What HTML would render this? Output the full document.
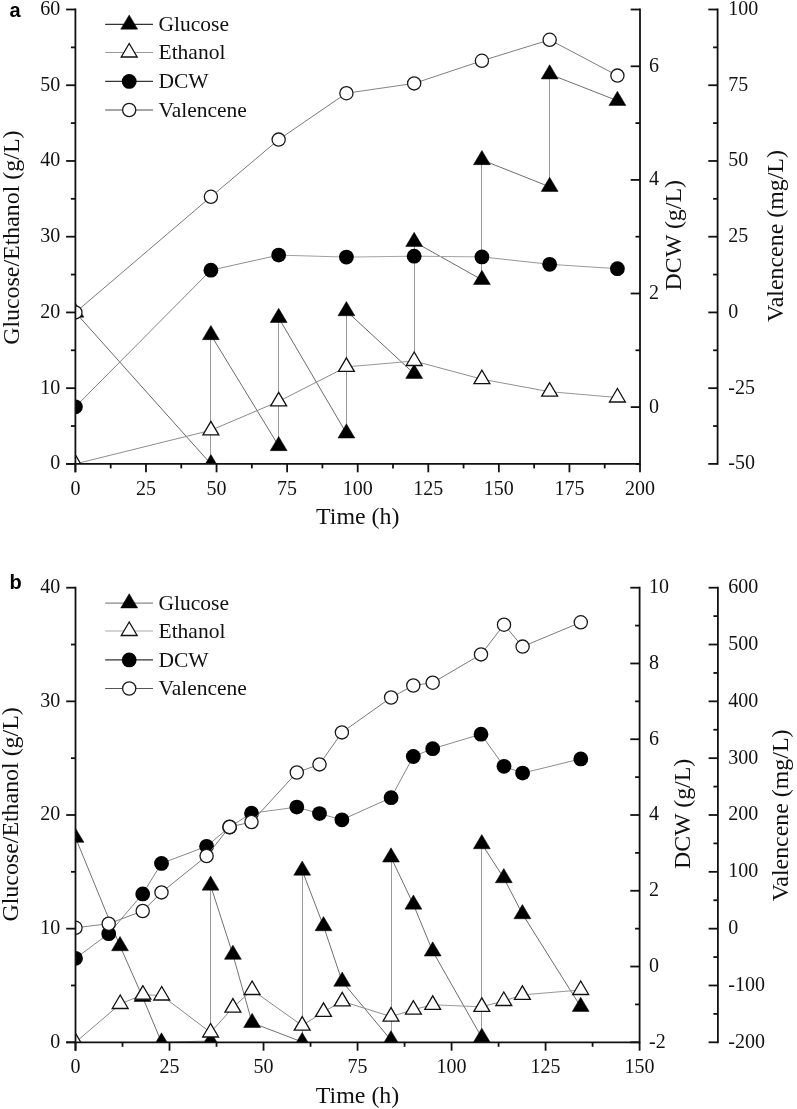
<!DOCTYPE html>
<html><head><meta charset="utf-8"><title>Fermentation profiles</title>
<style>
html,body{margin:0;padding:0;background:#fff;}
body{width:797px;height:1109px;overflow:hidden;font-family:"Liberation Serif",serif;}
svg{display:block;will-change:transform;}
</style></head>
<body>
<svg width="797" height="1109" viewBox="0 0 797 1109">
<rect x="0" y="0" width="797" height="1109" fill="#fff"/>
<clipPath id="ca"><rect x="75.4" y="-10.5" width="594.6" height="474.4"/></clipPath>
<g clip-path="url(#ca)">
<line x1="75.40" y1="312.40" x2="210.90" y2="464.00" stroke="#6a6a6a" stroke-width="1.0" stroke-linecap="round"/>
<line x1="210.50" y1="464.00" x2="210.50" y2="334.90" stroke="#9a9a9a" stroke-width="1.0" stroke-linecap="round"/>
<line x1="210.90" y1="334.90" x2="278.66" y2="445.90" stroke="#6c6c6c" stroke-width="1.0" stroke-linecap="round"/>
<line x1="278.50" y1="445.90" x2="278.50" y2="317.80" stroke="#9a9a9a" stroke-width="1.0" stroke-linecap="round"/>
<line x1="278.66" y1="317.80" x2="346.41" y2="433.30" stroke="#6c6c6c" stroke-width="1.0" stroke-linecap="round"/>
<line x1="346.50" y1="433.30" x2="346.50" y2="311.00" stroke="#9a9a9a" stroke-width="1.0" stroke-linecap="round"/>
<line x1="346.41" y1="311.00" x2="414.16" y2="373.70" stroke="#6a6a6a" stroke-width="1.0" stroke-linecap="round"/>
<line x1="414.50" y1="373.70" x2="414.50" y2="241.80" stroke="#9a9a9a" stroke-width="1.0" stroke-linecap="round"/>
<line x1="414.16" y1="241.80" x2="481.91" y2="279.80" stroke="#6d6d6d" stroke-width="1.0" stroke-linecap="round"/>
<line x1="481.50" y1="279.80" x2="481.50" y2="159.90" stroke="#9a9a9a" stroke-width="1.0" stroke-linecap="round"/>
<line x1="481.91" y1="159.90" x2="549.66" y2="186.80" stroke="#707070" stroke-width="1.0" stroke-linecap="round"/>
<line x1="549.50" y1="186.80" x2="549.50" y2="74.20" stroke="#9a9a9a" stroke-width="1.0" stroke-linecap="round"/>
<line x1="549.66" y1="74.20" x2="617.42" y2="100.70" stroke="#707070" stroke-width="1.0" stroke-linecap="round"/>
<polygon points="75.40,302.93 66.95,317.13 83.85,317.13" fill="#000" stroke="#000" stroke-width="0.5" stroke-linejoin="miter"/>
<polygon points="210.90,454.53 202.45,468.73 219.35,468.73" fill="#000" stroke="#000" stroke-width="0.5" stroke-linejoin="miter"/>
<polygon points="210.90,325.43 202.45,339.63 219.35,339.63" fill="#000" stroke="#000" stroke-width="0.5" stroke-linejoin="miter"/>
<polygon points="278.66,436.43 270.21,450.63 287.11,450.63" fill="#000" stroke="#000" stroke-width="0.5" stroke-linejoin="miter"/>
<polygon points="278.66,308.33 270.21,322.53 287.11,322.53" fill="#000" stroke="#000" stroke-width="0.5" stroke-linejoin="miter"/>
<polygon points="346.41,423.83 337.96,438.03 354.86,438.03" fill="#000" stroke="#000" stroke-width="0.5" stroke-linejoin="miter"/>
<polygon points="346.41,301.53 337.96,315.73 354.86,315.73" fill="#000" stroke="#000" stroke-width="0.5" stroke-linejoin="miter"/>
<polygon points="414.16,364.23 405.71,378.43 422.61,378.43" fill="#000" stroke="#000" stroke-width="0.5" stroke-linejoin="miter"/>
<polygon points="414.16,232.33 405.71,246.53 422.61,246.53" fill="#000" stroke="#000" stroke-width="0.5" stroke-linejoin="miter"/>
<polygon points="481.91,270.33 473.46,284.53 490.36,284.53" fill="#000" stroke="#000" stroke-width="0.5" stroke-linejoin="miter"/>
<polygon points="481.91,150.43 473.46,164.63 490.36,164.63" fill="#000" stroke="#000" stroke-width="0.5" stroke-linejoin="miter"/>
<polygon points="549.66,177.33 541.21,191.53 558.11,191.53" fill="#000" stroke="#000" stroke-width="0.5" stroke-linejoin="miter"/>
<polygon points="549.66,64.73 541.21,78.93 558.11,78.93" fill="#000" stroke="#000" stroke-width="0.5" stroke-linejoin="miter"/>
<polygon points="617.42,91.23 608.97,105.43 625.87,105.43" fill="#000" stroke="#000" stroke-width="0.5" stroke-linejoin="miter"/>
<line x1="75.40" y1="463.90" x2="210.90" y2="430.30" stroke="#8f8f8f" stroke-width="1.0" stroke-linecap="round"/>
<line x1="210.90" y1="430.30" x2="278.66" y2="401.40" stroke="#8b8b8b" stroke-width="1.0" stroke-linecap="round"/>
<line x1="278.66" y1="401.40" x2="346.41" y2="366.90" stroke="#8a8a8a" stroke-width="1.0" stroke-linecap="round"/>
<line x1="346.41" y1="366.90" x2="414.16" y2="361.00" stroke="#979797" stroke-width="1.0" stroke-linecap="round"/>
<line x1="414.16" y1="361.00" x2="481.91" y2="379.20" stroke="#8f8f8f" stroke-width="1.0" stroke-linecap="round"/>
<line x1="481.91" y1="379.20" x2="549.66" y2="391.70" stroke="#929292" stroke-width="1.0" stroke-linecap="round"/>
<line x1="549.66" y1="391.70" x2="617.42" y2="397.50" stroke="#979797" stroke-width="1.0" stroke-linecap="round"/>
<polygon points="75.40,454.90 67.45,468.40 83.35,468.40" fill="#fff" stroke="#111" stroke-width="1.3" stroke-linejoin="miter"/>
<polygon points="210.90,421.30 202.95,434.80 218.85,434.80" fill="#fff" stroke="#111" stroke-width="1.3" stroke-linejoin="miter"/>
<polygon points="278.66,392.40 270.71,405.90 286.61,405.90" fill="#fff" stroke="#111" stroke-width="1.3" stroke-linejoin="miter"/>
<polygon points="346.41,357.90 338.46,371.40 354.36,371.40" fill="#fff" stroke="#111" stroke-width="1.3" stroke-linejoin="miter"/>
<polygon points="414.16,352.00 406.21,365.50 422.11,365.50" fill="#fff" stroke="#111" stroke-width="1.3" stroke-linejoin="miter"/>
<polygon points="481.91,370.20 473.96,383.70 489.86,383.70" fill="#fff" stroke="#111" stroke-width="1.3" stroke-linejoin="miter"/>
<polygon points="549.66,382.70 541.71,396.20 557.61,396.20" fill="#fff" stroke="#111" stroke-width="1.3" stroke-linejoin="miter"/>
<polygon points="617.42,388.50 609.47,402.00 625.37,402.00" fill="#fff" stroke="#111" stroke-width="1.3" stroke-linejoin="miter"/>
<line x1="75.40" y1="406.80" x2="210.90" y2="270.20" stroke="#848484" stroke-width="1.0" stroke-linecap="round"/>
<line x1="210.90" y1="270.20" x2="278.66" y2="255.10" stroke="#8f8f8f" stroke-width="1.0" stroke-linecap="round"/>
<line x1="278.66" y1="255.10" x2="346.41" y2="257.10" stroke="#a0a0a0" stroke-width="1.0" stroke-linecap="round"/>
<line x1="346.41" y1="257.10" x2="414.16" y2="256.20" stroke="#a4a4a4" stroke-width="1.0" stroke-linecap="round"/>
<line x1="414.16" y1="256.20" x2="481.91" y2="256.90" stroke="#a5a5a5" stroke-width="1.0" stroke-linecap="round"/>
<line x1="481.91" y1="256.90" x2="549.66" y2="264.30" stroke="#969696" stroke-width="1.0" stroke-linecap="round"/>
<line x1="549.66" y1="264.30" x2="617.42" y2="268.70" stroke="#9a9a9a" stroke-width="1.0" stroke-linecap="round"/>
<circle cx="75.40" cy="406.80" r="7.40" fill="#000"/>
<circle cx="210.90" cy="270.20" r="7.40" fill="#000"/>
<circle cx="278.66" cy="255.10" r="7.40" fill="#000"/>
<circle cx="346.41" cy="257.10" r="7.40" fill="#000"/>
<circle cx="414.16" cy="256.20" r="7.40" fill="#000"/>
<circle cx="481.91" cy="256.90" r="7.40" fill="#000"/>
<circle cx="549.66" cy="264.30" r="7.40" fill="#000"/>
<circle cx="617.42" cy="268.70" r="7.40" fill="#000"/>
<line x1="75.40" y1="312.40" x2="210.90" y2="196.80" stroke="#7a7a7a" stroke-width="1.0" stroke-linecap="round"/>
<line x1="210.90" y1="196.80" x2="278.66" y2="139.60" stroke="#7a7a7a" stroke-width="1.0" stroke-linecap="round"/>
<line x1="278.66" y1="139.60" x2="346.41" y2="93.20" stroke="#7b7b7b" stroke-width="1.0" stroke-linecap="round"/>
<line x1="346.41" y1="93.20" x2="414.16" y2="83.40" stroke="#858585" stroke-width="1.0" stroke-linecap="round"/>
<line x1="414.16" y1="83.40" x2="481.91" y2="60.80" stroke="#7f7f7f" stroke-width="1.0" stroke-linecap="round"/>
<line x1="481.91" y1="60.80" x2="549.66" y2="39.80" stroke="#7f7f7f" stroke-width="1.0" stroke-linecap="round"/>
<line x1="549.66" y1="39.80" x2="617.42" y2="75.60" stroke="#7c7c7c" stroke-width="1.0" stroke-linecap="round"/>
<circle cx="75.40" cy="312.40" r="6.60" fill="#fff" stroke="#1a1a1a" stroke-width="1.3"/>
<circle cx="210.90" cy="196.80" r="6.60" fill="#fff" stroke="#1a1a1a" stroke-width="1.3"/>
<circle cx="278.66" cy="139.60" r="6.60" fill="#fff" stroke="#1a1a1a" stroke-width="1.3"/>
<circle cx="346.41" cy="93.20" r="6.60" fill="#fff" stroke="#1a1a1a" stroke-width="1.3"/>
<circle cx="414.16" cy="83.40" r="6.60" fill="#fff" stroke="#1a1a1a" stroke-width="1.3"/>
<circle cx="481.91" cy="60.80" r="6.60" fill="#fff" stroke="#1a1a1a" stroke-width="1.3"/>
<circle cx="549.66" cy="39.80" r="6.60" fill="#fff" stroke="#1a1a1a" stroke-width="1.3"/>
<circle cx="617.42" cy="75.60" r="6.60" fill="#fff" stroke="#1a1a1a" stroke-width="1.3"/>
</g>
<line x1="75.40" y1="8.60" x2="75.40" y2="472.30" stroke="#111" stroke-width="1.8" />
<line x1="66.10" y1="463.90" x2="640.00" y2="463.90" stroke="#111" stroke-width="1.8" />
<line x1="66.10" y1="463.90" x2="75.40" y2="463.90" stroke="#111" stroke-width="1.8" />
<text x="60.20" y="469.30" font-family='"Liberation Serif", serif' font-size="20" font-weight="normal" text-anchor="end" fill="#111" >0</text>
<line x1="70.90" y1="426.03" x2="75.40" y2="426.03" stroke="#111" stroke-width="1.8" />
<line x1="66.10" y1="388.17" x2="75.40" y2="388.17" stroke="#111" stroke-width="1.8" />
<text x="60.20" y="393.57" font-family='"Liberation Serif", serif' font-size="20" font-weight="normal" text-anchor="end" fill="#111" >10</text>
<line x1="70.90" y1="350.30" x2="75.40" y2="350.30" stroke="#111" stroke-width="1.8" />
<line x1="66.10" y1="312.43" x2="75.40" y2="312.43" stroke="#111" stroke-width="1.8" />
<text x="60.20" y="317.83" font-family='"Liberation Serif", serif' font-size="20" font-weight="normal" text-anchor="end" fill="#111" >20</text>
<line x1="70.90" y1="274.57" x2="75.40" y2="274.57" stroke="#111" stroke-width="1.8" />
<line x1="66.10" y1="236.70" x2="75.40" y2="236.70" stroke="#111" stroke-width="1.8" />
<text x="60.20" y="242.10" font-family='"Liberation Serif", serif' font-size="20" font-weight="normal" text-anchor="end" fill="#111" >30</text>
<line x1="70.90" y1="198.83" x2="75.40" y2="198.83" stroke="#111" stroke-width="1.8" />
<line x1="66.10" y1="160.97" x2="75.40" y2="160.97" stroke="#111" stroke-width="1.8" />
<text x="60.20" y="166.37" font-family='"Liberation Serif", serif' font-size="20" font-weight="normal" text-anchor="end" fill="#111" >40</text>
<line x1="70.90" y1="123.10" x2="75.40" y2="123.10" stroke="#111" stroke-width="1.8" />
<line x1="66.10" y1="85.23" x2="75.40" y2="85.23" stroke="#111" stroke-width="1.8" />
<text x="60.20" y="90.63" font-family='"Liberation Serif", serif' font-size="20" font-weight="normal" text-anchor="end" fill="#111" >50</text>
<line x1="70.90" y1="47.37" x2="75.40" y2="47.37" stroke="#111" stroke-width="1.8" />
<line x1="66.10" y1="9.50" x2="75.40" y2="9.50" stroke="#111" stroke-width="1.8" />
<text x="60.20" y="14.90" font-family='"Liberation Serif", serif' font-size="20" font-weight="normal" text-anchor="end" fill="#111" >60</text>
<line x1="75.40" y1="463.90" x2="75.40" y2="472.30" stroke="#111" stroke-width="1.8" />
<text x="75.40" y="494.50" font-family='"Liberation Serif", serif' font-size="20" font-weight="normal" text-anchor="middle" fill="#111" >0</text>
<line x1="110.69" y1="463.90" x2="110.69" y2="468.40" stroke="#111" stroke-width="1.8" />
<line x1="145.98" y1="463.90" x2="145.98" y2="472.30" stroke="#111" stroke-width="1.8" />
<text x="145.98" y="494.50" font-family='"Liberation Serif", serif' font-size="20" font-weight="normal" text-anchor="middle" fill="#111" >25</text>
<line x1="181.26" y1="463.90" x2="181.26" y2="468.40" stroke="#111" stroke-width="1.8" />
<line x1="216.55" y1="463.90" x2="216.55" y2="472.30" stroke="#111" stroke-width="1.8" />
<text x="216.55" y="494.50" font-family='"Liberation Serif", serif' font-size="20" font-weight="normal" text-anchor="middle" fill="#111" >50</text>
<line x1="251.84" y1="463.90" x2="251.84" y2="468.40" stroke="#111" stroke-width="1.8" />
<line x1="287.12" y1="463.90" x2="287.12" y2="472.30" stroke="#111" stroke-width="1.8" />
<text x="287.12" y="494.50" font-family='"Liberation Serif", serif' font-size="20" font-weight="normal" text-anchor="middle" fill="#111" >75</text>
<line x1="322.41" y1="463.90" x2="322.41" y2="468.40" stroke="#111" stroke-width="1.8" />
<line x1="357.70" y1="463.90" x2="357.70" y2="472.30" stroke="#111" stroke-width="1.8" />
<text x="357.70" y="494.50" font-family='"Liberation Serif", serif' font-size="20" font-weight="normal" text-anchor="middle" fill="#111" >100</text>
<line x1="392.99" y1="463.90" x2="392.99" y2="468.40" stroke="#111" stroke-width="1.8" />
<line x1="428.27" y1="463.90" x2="428.27" y2="472.30" stroke="#111" stroke-width="1.8" />
<text x="428.27" y="494.50" font-family='"Liberation Serif", serif' font-size="20" font-weight="normal" text-anchor="middle" fill="#111" >125</text>
<line x1="463.56" y1="463.90" x2="463.56" y2="468.40" stroke="#111" stroke-width="1.8" />
<line x1="498.85" y1="463.90" x2="498.85" y2="472.30" stroke="#111" stroke-width="1.8" />
<text x="498.85" y="494.50" font-family='"Liberation Serif", serif' font-size="20" font-weight="normal" text-anchor="middle" fill="#111" >150</text>
<line x1="534.14" y1="463.90" x2="534.14" y2="468.40" stroke="#111" stroke-width="1.8" />
<line x1="569.42" y1="463.90" x2="569.42" y2="472.30" stroke="#111" stroke-width="1.8" />
<text x="569.42" y="494.50" font-family='"Liberation Serif", serif' font-size="20" font-weight="normal" text-anchor="middle" fill="#111" >175</text>
<line x1="604.71" y1="463.90" x2="604.71" y2="468.40" stroke="#111" stroke-width="1.8" />
<line x1="640.00" y1="463.90" x2="640.00" y2="472.30" stroke="#111" stroke-width="1.8" />
<text x="640.00" y="494.50" font-family='"Liberation Serif", serif' font-size="20" font-weight="normal" text-anchor="middle" fill="#111" >200</text>
<line x1="640.00" y1="8.60" x2="640.00" y2="464.80" stroke="#111" stroke-width="1.8" />
<line x1="635.50" y1="463.90" x2="640.00" y2="463.90" stroke="#111" stroke-width="1.8" />
<line x1="630.70" y1="407.10" x2="640.00" y2="407.10" stroke="#111" stroke-width="1.8" />
<text x="649.00" y="412.50" font-family='"Liberation Serif", serif' font-size="20" font-weight="normal" text-anchor="start" fill="#111" >0</text>
<line x1="635.50" y1="350.30" x2="640.00" y2="350.30" stroke="#111" stroke-width="1.8" />
<line x1="630.70" y1="293.50" x2="640.00" y2="293.50" stroke="#111" stroke-width="1.8" />
<text x="649.00" y="298.90" font-family='"Liberation Serif", serif' font-size="20" font-weight="normal" text-anchor="start" fill="#111" >2</text>
<line x1="635.50" y1="236.70" x2="640.00" y2="236.70" stroke="#111" stroke-width="1.8" />
<line x1="630.70" y1="179.90" x2="640.00" y2="179.90" stroke="#111" stroke-width="1.8" />
<text x="649.00" y="185.30" font-family='"Liberation Serif", serif' font-size="20" font-weight="normal" text-anchor="start" fill="#111" >4</text>
<line x1="635.50" y1="123.10" x2="640.00" y2="123.10" stroke="#111" stroke-width="1.8" />
<line x1="630.70" y1="66.30" x2="640.00" y2="66.30" stroke="#111" stroke-width="1.8" />
<text x="649.00" y="71.70" font-family='"Liberation Serif", serif' font-size="20" font-weight="normal" text-anchor="start" fill="#111" >6</text>
<line x1="630.70" y1="9.50" x2="640.00" y2="9.50" stroke="#111" stroke-width="1.8" />
<line x1="717.60" y1="8.60" x2="717.60" y2="464.80" stroke="#111" stroke-width="1.8" />
<line x1="708.30" y1="463.90" x2="717.60" y2="463.90" stroke="#111" stroke-width="1.8" />
<text x="728.30" y="469.30" font-family='"Liberation Serif", serif' font-size="20" font-weight="normal" text-anchor="start" fill="#111" >-50</text>
<line x1="713.10" y1="426.03" x2="717.60" y2="426.03" stroke="#111" stroke-width="1.8" />
<line x1="708.30" y1="388.17" x2="717.60" y2="388.17" stroke="#111" stroke-width="1.8" />
<text x="728.30" y="393.57" font-family='"Liberation Serif", serif' font-size="20" font-weight="normal" text-anchor="start" fill="#111" >-25</text>
<line x1="713.10" y1="350.30" x2="717.60" y2="350.30" stroke="#111" stroke-width="1.8" />
<line x1="708.30" y1="312.43" x2="717.60" y2="312.43" stroke="#111" stroke-width="1.8" />
<text x="728.30" y="317.83" font-family='"Liberation Serif", serif' font-size="20" font-weight="normal" text-anchor="start" fill="#111" >0</text>
<line x1="713.10" y1="274.57" x2="717.60" y2="274.57" stroke="#111" stroke-width="1.8" />
<line x1="708.30" y1="236.70" x2="717.60" y2="236.70" stroke="#111" stroke-width="1.8" />
<text x="728.30" y="242.10" font-family='"Liberation Serif", serif' font-size="20" font-weight="normal" text-anchor="start" fill="#111" >25</text>
<line x1="713.10" y1="198.83" x2="717.60" y2="198.83" stroke="#111" stroke-width="1.8" />
<line x1="708.30" y1="160.97" x2="717.60" y2="160.97" stroke="#111" stroke-width="1.8" />
<text x="728.30" y="166.37" font-family='"Liberation Serif", serif' font-size="20" font-weight="normal" text-anchor="start" fill="#111" >50</text>
<line x1="713.10" y1="123.10" x2="717.60" y2="123.10" stroke="#111" stroke-width="1.8" />
<line x1="708.30" y1="85.23" x2="717.60" y2="85.23" stroke="#111" stroke-width="1.8" />
<text x="728.30" y="90.63" font-family='"Liberation Serif", serif' font-size="20" font-weight="normal" text-anchor="start" fill="#111" >75</text>
<line x1="713.10" y1="47.37" x2="717.60" y2="47.37" stroke="#111" stroke-width="1.8" />
<line x1="708.30" y1="9.50" x2="717.60" y2="9.50" stroke="#111" stroke-width="1.8" />
<text x="728.30" y="14.90" font-family='"Liberation Serif", serif' font-size="20" font-weight="normal" text-anchor="start" fill="#111" >100</text>
<text x="10.80" y="237.70" font-family='"Liberation Serif", serif' font-size="23.9" font-weight="normal" text-anchor="middle" fill="#111" transform="rotate(-90 10.80 237.70)" dy="0.35em">Glucose/Ethanol (g/L)</text>
<text x="672.50" y="235.20" font-family='"Liberation Serif", serif' font-size="23.9" font-weight="normal" text-anchor="middle" fill="#111" transform="rotate(-90 672.50 235.20)" dy="0.35em">DCW (g/L)</text>
<text x="774.60" y="236.00" font-family='"Liberation Serif", serif' font-size="23.9" font-weight="normal" text-anchor="middle" fill="#111" transform="rotate(-90 774.60 236.00)" dy="0.35em">Valencene (mg/L)</text>
<text x="357.70" y="524.30" font-family='"Liberation Serif", serif' font-size="23.9" font-weight="normal" text-anchor="middle" fill="#111" >Time (h)</text>
<text x="9.50" y="16.90" font-family='"Liberation Sans", sans-serif' font-size="20" font-weight="bold" text-anchor="start" fill="#000" >a</text>
<line x1="105.20" y1="24.40" x2="153.00" y2="24.40" stroke="#333" stroke-width="1.2" />
<polygon points="129.20,14.93 120.75,29.13 137.65,29.13" fill="#000" stroke="#000" stroke-width="0.5" stroke-linejoin="miter"/>
<text x="158.50" y="31.10" font-family='"Liberation Serif", serif' font-size="21.5" font-weight="normal" text-anchor="start" fill="#111" >Glucose</text>
<line x1="105.20" y1="52.50" x2="153.00" y2="52.50" stroke="#999" stroke-width="1.2" />
<polygon points="129.20,43.50 121.25,57.00 137.15,57.00" fill="#fff" stroke="#111" stroke-width="1.3" stroke-linejoin="miter"/>
<text x="158.50" y="59.20" font-family='"Liberation Serif", serif' font-size="21.5" font-weight="normal" text-anchor="start" fill="#111" >Ethanol</text>
<line x1="105.20" y1="81.40" x2="153.00" y2="81.40" stroke="#333" stroke-width="1.2" />
<circle cx="129.20" cy="81.40" r="7.40" fill="#000"/>
<text x="158.50" y="88.10" font-family='"Liberation Serif", serif' font-size="21.5" font-weight="normal" text-anchor="start" fill="#111" >DCW</text>
<line x1="105.20" y1="110.00" x2="153.00" y2="110.00" stroke="#888" stroke-width="1.4" />
<circle cx="129.20" cy="110.00" r="6.60" fill="#fff" stroke="#1a1a1a" stroke-width="1.3"/>
<text x="158.50" y="116.70" font-family='"Liberation Serif", serif' font-size="21.5" font-weight="normal" text-anchor="start" fill="#111" >Valencene</text>
<clipPath id="cb"><rect x="75.5" y="567.7" width="594.1" height="474.5999999999999"/></clipPath>
<g clip-path="url(#cb)">
<line x1="75.50" y1="837.60" x2="120.00" y2="946.00" stroke="#707070" stroke-width="1.0" stroke-linecap="round"/>
<line x1="120.00" y1="946.00" x2="142.50" y2="996.80" stroke="#6f6f6f" stroke-width="1.0" stroke-linecap="round"/>
<line x1="142.50" y1="996.80" x2="161.50" y2="1042.30" stroke="#6f6f6f" stroke-width="1.0" stroke-linecap="round"/>
<line x1="161.50" y1="1042.30" x2="210.60" y2="1041.00" stroke="#898989" stroke-width="1.0" stroke-linecap="round"/>
<line x1="210.50" y1="1041.00" x2="210.50" y2="885.40" stroke="#9a9a9a" stroke-width="1.0" stroke-linecap="round"/>
<line x1="210.60" y1="885.40" x2="232.90" y2="954.60" stroke="#727272" stroke-width="1.0" stroke-linecap="round"/>
<line x1="232.90" y1="954.60" x2="252.10" y2="1022.80" stroke="#747474" stroke-width="1.0" stroke-linecap="round"/>
<line x1="252.10" y1="1022.80" x2="302.20" y2="1042.00" stroke="#707070" stroke-width="1.0" stroke-linecap="round"/>
<line x1="302.50" y1="1042.00" x2="302.50" y2="870.50" stroke="#9a9a9a" stroke-width="1.0" stroke-linecap="round"/>
<line x1="302.20" y1="870.50" x2="323.50" y2="926.00" stroke="#707070" stroke-width="1.0" stroke-linecap="round"/>
<line x1="323.50" y1="926.00" x2="342.20" y2="981.50" stroke="#727272" stroke-width="1.0" stroke-linecap="round"/>
<line x1="342.20" y1="981.50" x2="391.00" y2="1040.10" stroke="#6a6a6a" stroke-width="1.0" stroke-linecap="round"/>
<line x1="391.50" y1="1040.10" x2="391.50" y2="857.30" stroke="#9a9a9a" stroke-width="1.0" stroke-linecap="round"/>
<line x1="391.00" y1="857.30" x2="413.40" y2="904.40" stroke="#6e6e6e" stroke-width="1.0" stroke-linecap="round"/>
<line x1="413.40" y1="904.40" x2="432.70" y2="951.30" stroke="#707070" stroke-width="1.0" stroke-linecap="round"/>
<line x1="432.70" y1="951.30" x2="481.80" y2="1037.60" stroke="#6c6c6c" stroke-width="1.0" stroke-linecap="round"/>
<line x1="481.50" y1="1037.60" x2="481.50" y2="844.00" stroke="#9a9a9a" stroke-width="1.0" stroke-linecap="round"/>
<line x1="481.80" y1="844.00" x2="503.80" y2="878.00" stroke="#6c6c6c" stroke-width="1.0" stroke-linecap="round"/>
<line x1="503.80" y1="878.00" x2="522.40" y2="914.00" stroke="#6d6d6d" stroke-width="1.0" stroke-linecap="round"/>
<line x1="522.40" y1="914.00" x2="580.70" y2="1006.70" stroke="#6c6c6c" stroke-width="1.0" stroke-linecap="round"/>
<polygon points="75.50,828.13 67.05,842.33 83.95,842.33" fill="#000" stroke="#000" stroke-width="0.5" stroke-linejoin="miter"/>
<polygon points="120.00,936.53 111.55,950.73 128.45,950.73" fill="#000" stroke="#000" stroke-width="0.5" stroke-linejoin="miter"/>
<polygon points="142.50,987.33 134.05,1001.53 150.95,1001.53" fill="#000" stroke="#000" stroke-width="0.5" stroke-linejoin="miter"/>
<polygon points="161.50,1032.83 153.05,1047.03 169.95,1047.03" fill="#000" stroke="#000" stroke-width="0.5" stroke-linejoin="miter"/>
<polygon points="210.60,1031.53 202.15,1045.73 219.05,1045.73" fill="#000" stroke="#000" stroke-width="0.5" stroke-linejoin="miter"/>
<polygon points="210.60,875.93 202.15,890.13 219.05,890.13" fill="#000" stroke="#000" stroke-width="0.5" stroke-linejoin="miter"/>
<polygon points="232.90,945.13 224.45,959.33 241.35,959.33" fill="#000" stroke="#000" stroke-width="0.5" stroke-linejoin="miter"/>
<polygon points="252.10,1013.33 243.65,1027.53 260.55,1027.53" fill="#000" stroke="#000" stroke-width="0.5" stroke-linejoin="miter"/>
<polygon points="302.20,1032.53 293.75,1046.73 310.65,1046.73" fill="#000" stroke="#000" stroke-width="0.5" stroke-linejoin="miter"/>
<polygon points="302.20,861.03 293.75,875.23 310.65,875.23" fill="#000" stroke="#000" stroke-width="0.5" stroke-linejoin="miter"/>
<polygon points="323.50,916.53 315.05,930.73 331.95,930.73" fill="#000" stroke="#000" stroke-width="0.5" stroke-linejoin="miter"/>
<polygon points="342.20,972.03 333.75,986.23 350.65,986.23" fill="#000" stroke="#000" stroke-width="0.5" stroke-linejoin="miter"/>
<polygon points="391.00,1030.63 382.55,1044.83 399.45,1044.83" fill="#000" stroke="#000" stroke-width="0.5" stroke-linejoin="miter"/>
<polygon points="391.00,847.83 382.55,862.03 399.45,862.03" fill="#000" stroke="#000" stroke-width="0.5" stroke-linejoin="miter"/>
<polygon points="413.40,894.93 404.95,909.13 421.85,909.13" fill="#000" stroke="#000" stroke-width="0.5" stroke-linejoin="miter"/>
<polygon points="432.70,941.83 424.25,956.03 441.15,956.03" fill="#000" stroke="#000" stroke-width="0.5" stroke-linejoin="miter"/>
<polygon points="481.80,1028.13 473.35,1042.33 490.25,1042.33" fill="#000" stroke="#000" stroke-width="0.5" stroke-linejoin="miter"/>
<polygon points="481.80,834.53 473.35,848.73 490.25,848.73" fill="#000" stroke="#000" stroke-width="0.5" stroke-linejoin="miter"/>
<polygon points="503.80,868.53 495.35,882.73 512.25,882.73" fill="#000" stroke="#000" stroke-width="0.5" stroke-linejoin="miter"/>
<polygon points="522.40,904.53 513.95,918.73 530.85,918.73" fill="#000" stroke="#000" stroke-width="0.5" stroke-linejoin="miter"/>
<polygon points="580.70,997.23 572.25,1011.43 589.15,1011.43" fill="#000" stroke="#000" stroke-width="0.5" stroke-linejoin="miter"/>
<line x1="75.50" y1="1042.30" x2="120.20" y2="1004.00" stroke="#888888" stroke-width="1.0" stroke-linecap="round"/>
<line x1="120.20" y1="1004.00" x2="142.90" y2="994.70" stroke="#8c8c8c" stroke-width="1.0" stroke-linecap="round"/>
<line x1="142.90" y1="994.70" x2="161.70" y2="995.50" stroke="#9a9a9a" stroke-width="1.0" stroke-linecap="round"/>
<line x1="161.70" y1="995.50" x2="210.60" y2="1032.50" stroke="#888888" stroke-width="1.0" stroke-linecap="round"/>
<line x1="210.60" y1="1032.50" x2="232.90" y2="1007.60" stroke="#888888" stroke-width="1.0" stroke-linecap="round"/>
<line x1="232.90" y1="1007.60" x2="252.10" y2="990.00" stroke="#888888" stroke-width="1.0" stroke-linecap="round"/>
<line x1="252.10" y1="990.00" x2="302.20" y2="1025.60" stroke="#898989" stroke-width="1.0" stroke-linecap="round"/>
<line x1="302.20" y1="1025.60" x2="323.50" y2="1011.80" stroke="#898989" stroke-width="1.0" stroke-linecap="round"/>
<line x1="323.50" y1="1011.80" x2="342.20" y2="1001.30" stroke="#8a8a8a" stroke-width="1.0" stroke-linecap="round"/>
<line x1="342.20" y1="1001.30" x2="391.00" y2="1016.60" stroke="#8e8e8e" stroke-width="1.0" stroke-linecap="round"/>
<line x1="391.00" y1="1016.60" x2="413.40" y2="1009.70" stroke="#8e8e8e" stroke-width="1.0" stroke-linecap="round"/>
<line x1="413.40" y1="1009.70" x2="432.70" y2="1004.80" stroke="#8f8f8f" stroke-width="1.0" stroke-linecap="round"/>
<line x1="432.70" y1="1004.80" x2="481.80" y2="1006.80" stroke="#9b9b9b" stroke-width="1.0" stroke-linecap="round"/>
<line x1="481.80" y1="1006.80" x2="503.80" y2="1001.00" stroke="#8f8f8f" stroke-width="1.0" stroke-linecap="round"/>
<line x1="503.80" y1="1001.00" x2="522.40" y2="994.90" stroke="#8d8d8d" stroke-width="1.0" stroke-linecap="round"/>
<line x1="522.40" y1="994.90" x2="580.70" y2="990.00" stroke="#979797" stroke-width="1.0" stroke-linecap="round"/>
<polygon points="75.50,1033.30 67.55,1046.80 83.45,1046.80" fill="#fff" stroke="#111" stroke-width="1.3" stroke-linejoin="miter"/>
<polygon points="120.20,995.00 112.25,1008.50 128.15,1008.50" fill="#fff" stroke="#111" stroke-width="1.3" stroke-linejoin="miter"/>
<polygon points="142.90,985.70 134.95,999.20 150.85,999.20" fill="#fff" stroke="#111" stroke-width="1.3" stroke-linejoin="miter"/>
<polygon points="161.70,986.50 153.75,1000.00 169.65,1000.00" fill="#fff" stroke="#111" stroke-width="1.3" stroke-linejoin="miter"/>
<polygon points="210.60,1023.50 202.65,1037.00 218.55,1037.00" fill="#fff" stroke="#111" stroke-width="1.3" stroke-linejoin="miter"/>
<polygon points="232.90,998.60 224.95,1012.10 240.85,1012.10" fill="#fff" stroke="#111" stroke-width="1.3" stroke-linejoin="miter"/>
<polygon points="252.10,981.00 244.15,994.50 260.05,994.50" fill="#fff" stroke="#111" stroke-width="1.3" stroke-linejoin="miter"/>
<polygon points="302.20,1016.60 294.25,1030.10 310.15,1030.10" fill="#fff" stroke="#111" stroke-width="1.3" stroke-linejoin="miter"/>
<polygon points="323.50,1002.80 315.55,1016.30 331.45,1016.30" fill="#fff" stroke="#111" stroke-width="1.3" stroke-linejoin="miter"/>
<polygon points="342.20,992.30 334.25,1005.80 350.15,1005.80" fill="#fff" stroke="#111" stroke-width="1.3" stroke-linejoin="miter"/>
<polygon points="391.00,1007.60 383.05,1021.10 398.95,1021.10" fill="#fff" stroke="#111" stroke-width="1.3" stroke-linejoin="miter"/>
<polygon points="413.40,1000.70 405.45,1014.20 421.35,1014.20" fill="#fff" stroke="#111" stroke-width="1.3" stroke-linejoin="miter"/>
<polygon points="432.70,995.80 424.75,1009.30 440.65,1009.30" fill="#fff" stroke="#111" stroke-width="1.3" stroke-linejoin="miter"/>
<polygon points="481.80,997.80 473.85,1011.30 489.75,1011.30" fill="#fff" stroke="#111" stroke-width="1.3" stroke-linejoin="miter"/>
<polygon points="503.80,992.00 495.85,1005.50 511.75,1005.50" fill="#fff" stroke="#111" stroke-width="1.3" stroke-linejoin="miter"/>
<polygon points="522.40,985.90 514.45,999.40 530.35,999.40" fill="#fff" stroke="#111" stroke-width="1.3" stroke-linejoin="miter"/>
<polygon points="580.70,981.00 572.75,994.50 588.65,994.50" fill="#fff" stroke="#111" stroke-width="1.3" stroke-linejoin="miter"/>
<line x1="75.50" y1="958.30" x2="108.70" y2="933.70" stroke="#858585" stroke-width="1.0" stroke-linecap="round"/>
<line x1="108.70" y1="933.70" x2="142.70" y2="893.90" stroke="#848484" stroke-width="1.0" stroke-linecap="round"/>
<line x1="142.70" y1="893.90" x2="161.50" y2="863.40" stroke="#868686" stroke-width="1.0" stroke-linecap="round"/>
<line x1="161.50" y1="863.40" x2="206.60" y2="846.30" stroke="#8a8a8a" stroke-width="1.0" stroke-linecap="round"/>
<line x1="206.60" y1="846.30" x2="229.60" y2="827.00" stroke="#848484" stroke-width="1.0" stroke-linecap="round"/>
<line x1="229.60" y1="827.00" x2="251.50" y2="813.20" stroke="#868686" stroke-width="1.0" stroke-linecap="round"/>
<line x1="251.50" y1="813.20" x2="296.80" y2="807.10" stroke="#949494" stroke-width="1.0" stroke-linecap="round"/>
<line x1="296.80" y1="807.10" x2="319.50" y2="813.60" stroke="#8d8d8d" stroke-width="1.0" stroke-linecap="round"/>
<line x1="319.50" y1="813.60" x2="341.90" y2="819.80" stroke="#8d8d8d" stroke-width="1.0" stroke-linecap="round"/>
<line x1="341.90" y1="819.80" x2="391.10" y2="797.70" stroke="#888888" stroke-width="1.0" stroke-linecap="round"/>
<line x1="391.10" y1="797.70" x2="413.30" y2="756.50" stroke="#878787" stroke-width="1.0" stroke-linecap="round"/>
<line x1="413.30" y1="756.50" x2="432.70" y2="748.70" stroke="#898989" stroke-width="1.0" stroke-linecap="round"/>
<line x1="432.70" y1="748.70" x2="481.00" y2="734.20" stroke="#8c8c8c" stroke-width="1.0" stroke-linecap="round"/>
<line x1="481.00" y1="734.20" x2="504.00" y2="766.30" stroke="#858585" stroke-width="1.0" stroke-linecap="round"/>
<line x1="504.00" y1="766.30" x2="522.60" y2="773.10" stroke="#8a8a8a" stroke-width="1.0" stroke-linecap="round"/>
<line x1="522.60" y1="773.10" x2="580.80" y2="758.90" stroke="#8e8e8e" stroke-width="1.0" stroke-linecap="round"/>
<circle cx="75.50" cy="958.30" r="7.40" fill="#000"/>
<circle cx="108.70" cy="933.70" r="7.40" fill="#000"/>
<circle cx="142.70" cy="893.90" r="7.40" fill="#000"/>
<circle cx="161.50" cy="863.40" r="7.40" fill="#000"/>
<circle cx="206.60" cy="846.30" r="7.40" fill="#000"/>
<circle cx="229.60" cy="827.00" r="7.40" fill="#000"/>
<circle cx="251.50" cy="813.20" r="7.40" fill="#000"/>
<circle cx="296.80" cy="807.10" r="7.40" fill="#000"/>
<circle cx="319.50" cy="813.60" r="7.40" fill="#000"/>
<circle cx="341.90" cy="819.80" r="7.40" fill="#000"/>
<circle cx="391.10" cy="797.70" r="7.40" fill="#000"/>
<circle cx="413.30" cy="756.50" r="7.40" fill="#000"/>
<circle cx="432.70" cy="748.70" r="7.40" fill="#000"/>
<circle cx="481.00" cy="734.20" r="7.40" fill="#000"/>
<circle cx="504.00" cy="766.30" r="7.40" fill="#000"/>
<circle cx="522.60" cy="773.10" r="7.40" fill="#000"/>
<circle cx="580.80" cy="758.90" r="7.40" fill="#000"/>
<line x1="75.50" y1="927.80" x2="108.70" y2="923.70" stroke="#868686" stroke-width="1.0" stroke-linecap="round"/>
<line x1="108.70" y1="923.70" x2="142.70" y2="911.00" stroke="#7e7e7e" stroke-width="1.0" stroke-linecap="round"/>
<line x1="142.70" y1="911.00" x2="161.50" y2="892.40" stroke="#7a7a7a" stroke-width="1.0" stroke-linecap="round"/>
<line x1="161.50" y1="892.40" x2="206.60" y2="856.00" stroke="#7a7a7a" stroke-width="1.0" stroke-linecap="round"/>
<line x1="206.60" y1="856.00" x2="229.60" y2="827.00" stroke="#7a7a7a" stroke-width="1.0" stroke-linecap="round"/>
<line x1="229.60" y1="827.00" x2="251.50" y2="822.00" stroke="#828282" stroke-width="1.0" stroke-linecap="round"/>
<line x1="251.50" y1="822.00" x2="296.80" y2="772.50" stroke="#7a7a7a" stroke-width="1.0" stroke-linecap="round"/>
<line x1="296.80" y1="772.50" x2="319.50" y2="764.40" stroke="#7e7e7e" stroke-width="1.0" stroke-linecap="round"/>
<line x1="319.50" y1="764.40" x2="341.90" y2="732.40" stroke="#7b7b7b" stroke-width="1.0" stroke-linecap="round"/>
<line x1="341.90" y1="732.40" x2="391.10" y2="697.50" stroke="#7b7b7b" stroke-width="1.0" stroke-linecap="round"/>
<line x1="391.10" y1="697.50" x2="413.30" y2="685.50" stroke="#7c7c7c" stroke-width="1.0" stroke-linecap="round"/>
<line x1="413.30" y1="685.50" x2="432.70" y2="682.70" stroke="#858585" stroke-width="1.0" stroke-linecap="round"/>
<line x1="432.70" y1="682.70" x2="481.00" y2="654.40" stroke="#7b7b7b" stroke-width="1.0" stroke-linecap="round"/>
<line x1="481.00" y1="654.40" x2="504.00" y2="624.70" stroke="#7a7a7a" stroke-width="1.0" stroke-linecap="round"/>
<line x1="504.00" y1="624.70" x2="522.60" y2="646.60" stroke="#7a7a7a" stroke-width="1.0" stroke-linecap="round"/>
<line x1="522.60" y1="646.60" x2="580.80" y2="622.30" stroke="#7d7d7d" stroke-width="1.0" stroke-linecap="round"/>
<circle cx="75.50" cy="927.80" r="6.60" fill="#fff" stroke="#1a1a1a" stroke-width="1.3"/>
<circle cx="108.70" cy="923.70" r="6.60" fill="#fff" stroke="#1a1a1a" stroke-width="1.3"/>
<circle cx="142.70" cy="911.00" r="6.60" fill="#fff" stroke="#1a1a1a" stroke-width="1.3"/>
<circle cx="161.50" cy="892.40" r="6.60" fill="#fff" stroke="#1a1a1a" stroke-width="1.3"/>
<circle cx="206.60" cy="856.00" r="6.60" fill="#fff" stroke="#1a1a1a" stroke-width="1.3"/>
<circle cx="229.60" cy="827.00" r="6.60" fill="#fff" stroke="#1a1a1a" stroke-width="1.3"/>
<circle cx="251.50" cy="822.00" r="6.60" fill="#fff" stroke="#1a1a1a" stroke-width="1.3"/>
<circle cx="296.80" cy="772.50" r="6.60" fill="#fff" stroke="#1a1a1a" stroke-width="1.3"/>
<circle cx="319.50" cy="764.40" r="6.60" fill="#fff" stroke="#1a1a1a" stroke-width="1.3"/>
<circle cx="341.90" cy="732.40" r="6.60" fill="#fff" stroke="#1a1a1a" stroke-width="1.3"/>
<circle cx="391.10" cy="697.50" r="6.60" fill="#fff" stroke="#1a1a1a" stroke-width="1.3"/>
<circle cx="413.30" cy="685.50" r="6.60" fill="#fff" stroke="#1a1a1a" stroke-width="1.3"/>
<circle cx="432.70" cy="682.70" r="6.60" fill="#fff" stroke="#1a1a1a" stroke-width="1.3"/>
<circle cx="481.00" cy="654.40" r="6.60" fill="#fff" stroke="#1a1a1a" stroke-width="1.3"/>
<circle cx="504.00" cy="624.70" r="6.60" fill="#fff" stroke="#1a1a1a" stroke-width="1.3"/>
<circle cx="522.60" cy="646.60" r="6.60" fill="#fff" stroke="#1a1a1a" stroke-width="1.3"/>
<circle cx="580.80" cy="622.30" r="6.60" fill="#fff" stroke="#1a1a1a" stroke-width="1.3"/>
</g>
<line x1="75.50" y1="586.80" x2="75.50" y2="1050.70" stroke="#111" stroke-width="1.8" />
<line x1="66.20" y1="1042.30" x2="639.60" y2="1042.30" stroke="#111" stroke-width="1.8" />
<line x1="66.20" y1="1042.30" x2="75.50" y2="1042.30" stroke="#111" stroke-width="1.8" />
<text x="60.20" y="1047.70" font-family='"Liberation Serif", serif' font-size="20" font-weight="normal" text-anchor="end" fill="#111" >0</text>
<line x1="71.00" y1="985.47" x2="75.50" y2="985.47" stroke="#111" stroke-width="1.8" />
<line x1="66.20" y1="928.65" x2="75.50" y2="928.65" stroke="#111" stroke-width="1.8" />
<text x="60.20" y="934.05" font-family='"Liberation Serif", serif' font-size="20" font-weight="normal" text-anchor="end" fill="#111" >10</text>
<line x1="71.00" y1="871.83" x2="75.50" y2="871.83" stroke="#111" stroke-width="1.8" />
<line x1="66.20" y1="815.00" x2="75.50" y2="815.00" stroke="#111" stroke-width="1.8" />
<text x="60.20" y="820.40" font-family='"Liberation Serif", serif' font-size="20" font-weight="normal" text-anchor="end" fill="#111" >20</text>
<line x1="71.00" y1="758.17" x2="75.50" y2="758.17" stroke="#111" stroke-width="1.8" />
<line x1="66.20" y1="701.35" x2="75.50" y2="701.35" stroke="#111" stroke-width="1.8" />
<text x="60.20" y="706.75" font-family='"Liberation Serif", serif' font-size="20" font-weight="normal" text-anchor="end" fill="#111" >30</text>
<line x1="71.00" y1="644.53" x2="75.50" y2="644.53" stroke="#111" stroke-width="1.8" />
<line x1="66.20" y1="587.70" x2="75.50" y2="587.70" stroke="#111" stroke-width="1.8" />
<text x="60.20" y="593.10" font-family='"Liberation Serif", serif' font-size="20" font-weight="normal" text-anchor="end" fill="#111" >40</text>
<line x1="75.50" y1="1042.30" x2="75.50" y2="1050.70" stroke="#111" stroke-width="1.8" />
<text x="75.50" y="1072.90" font-family='"Liberation Serif", serif' font-size="20" font-weight="normal" text-anchor="middle" fill="#111" >0</text>
<line x1="122.51" y1="1042.30" x2="122.51" y2="1046.80" stroke="#111" stroke-width="1.8" />
<line x1="169.52" y1="1042.30" x2="169.52" y2="1050.70" stroke="#111" stroke-width="1.8" />
<text x="169.52" y="1072.90" font-family='"Liberation Serif", serif' font-size="20" font-weight="normal" text-anchor="middle" fill="#111" >25</text>
<line x1="216.53" y1="1042.30" x2="216.53" y2="1046.80" stroke="#111" stroke-width="1.8" />
<line x1="263.53" y1="1042.30" x2="263.53" y2="1050.70" stroke="#111" stroke-width="1.8" />
<text x="263.53" y="1072.90" font-family='"Liberation Serif", serif' font-size="20" font-weight="normal" text-anchor="middle" fill="#111" >50</text>
<line x1="310.54" y1="1042.30" x2="310.54" y2="1046.80" stroke="#111" stroke-width="1.8" />
<line x1="357.55" y1="1042.30" x2="357.55" y2="1050.70" stroke="#111" stroke-width="1.8" />
<text x="357.55" y="1072.90" font-family='"Liberation Serif", serif' font-size="20" font-weight="normal" text-anchor="middle" fill="#111" >75</text>
<line x1="404.56" y1="1042.30" x2="404.56" y2="1046.80" stroke="#111" stroke-width="1.8" />
<line x1="451.57" y1="1042.30" x2="451.57" y2="1050.70" stroke="#111" stroke-width="1.8" />
<text x="451.57" y="1072.90" font-family='"Liberation Serif", serif' font-size="20" font-weight="normal" text-anchor="middle" fill="#111" >100</text>
<line x1="498.57" y1="1042.30" x2="498.57" y2="1046.80" stroke="#111" stroke-width="1.8" />
<line x1="545.58" y1="1042.30" x2="545.58" y2="1050.70" stroke="#111" stroke-width="1.8" />
<text x="545.58" y="1072.90" font-family='"Liberation Serif", serif' font-size="20" font-weight="normal" text-anchor="middle" fill="#111" >125</text>
<line x1="592.59" y1="1042.30" x2="592.59" y2="1046.80" stroke="#111" stroke-width="1.8" />
<line x1="639.60" y1="1042.30" x2="639.60" y2="1050.70" stroke="#111" stroke-width="1.8" />
<text x="639.60" y="1072.90" font-family='"Liberation Serif", serif' font-size="20" font-weight="normal" text-anchor="middle" fill="#111" >150</text>
<line x1="639.60" y1="586.80" x2="639.60" y2="1043.20" stroke="#111" stroke-width="1.8" />
<line x1="630.30" y1="1042.30" x2="639.60" y2="1042.30" stroke="#111" stroke-width="1.8" />
<text x="649.00" y="1047.70" font-family='"Liberation Serif", serif' font-size="20" font-weight="normal" text-anchor="start" fill="#111" >-2</text>
<line x1="635.10" y1="1004.42" x2="639.60" y2="1004.42" stroke="#111" stroke-width="1.8" />
<line x1="630.30" y1="966.53" x2="639.60" y2="966.53" stroke="#111" stroke-width="1.8" />
<text x="649.00" y="971.93" font-family='"Liberation Serif", serif' font-size="20" font-weight="normal" text-anchor="start" fill="#111" >0</text>
<line x1="635.10" y1="928.65" x2="639.60" y2="928.65" stroke="#111" stroke-width="1.8" />
<line x1="630.30" y1="890.77" x2="639.60" y2="890.77" stroke="#111" stroke-width="1.8" />
<text x="649.00" y="896.17" font-family='"Liberation Serif", serif' font-size="20" font-weight="normal" text-anchor="start" fill="#111" >2</text>
<line x1="635.10" y1="852.88" x2="639.60" y2="852.88" stroke="#111" stroke-width="1.8" />
<line x1="630.30" y1="815.00" x2="639.60" y2="815.00" stroke="#111" stroke-width="1.8" />
<text x="649.00" y="820.40" font-family='"Liberation Serif", serif' font-size="20" font-weight="normal" text-anchor="start" fill="#111" >4</text>
<line x1="635.10" y1="777.12" x2="639.60" y2="777.12" stroke="#111" stroke-width="1.8" />
<line x1="630.30" y1="739.23" x2="639.60" y2="739.23" stroke="#111" stroke-width="1.8" />
<text x="649.00" y="744.63" font-family='"Liberation Serif", serif' font-size="20" font-weight="normal" text-anchor="start" fill="#111" >6</text>
<line x1="635.10" y1="701.35" x2="639.60" y2="701.35" stroke="#111" stroke-width="1.8" />
<line x1="630.30" y1="663.47" x2="639.60" y2="663.47" stroke="#111" stroke-width="1.8" />
<text x="649.00" y="668.87" font-family='"Liberation Serif", serif' font-size="20" font-weight="normal" text-anchor="start" fill="#111" >8</text>
<line x1="635.10" y1="625.58" x2="639.60" y2="625.58" stroke="#111" stroke-width="1.8" />
<line x1="630.30" y1="587.70" x2="639.60" y2="587.70" stroke="#111" stroke-width="1.8" />
<text x="649.00" y="593.10" font-family='"Liberation Serif", serif' font-size="20" font-weight="normal" text-anchor="start" fill="#111" >10</text>
<line x1="717.90" y1="586.80" x2="717.90" y2="1043.20" stroke="#111" stroke-width="1.8" />
<line x1="708.60" y1="1042.30" x2="717.90" y2="1042.30" stroke="#111" stroke-width="1.8" />
<text x="728.30" y="1047.70" font-family='"Liberation Serif", serif' font-size="20" font-weight="normal" text-anchor="start" fill="#111" >-200</text>
<line x1="713.40" y1="1013.89" x2="717.90" y2="1013.89" stroke="#111" stroke-width="1.8" />
<line x1="708.60" y1="985.47" x2="717.90" y2="985.47" stroke="#111" stroke-width="1.8" />
<text x="728.30" y="990.87" font-family='"Liberation Serif", serif' font-size="20" font-weight="normal" text-anchor="start" fill="#111" >-100</text>
<line x1="713.40" y1="957.06" x2="717.90" y2="957.06" stroke="#111" stroke-width="1.8" />
<line x1="708.60" y1="928.65" x2="717.90" y2="928.65" stroke="#111" stroke-width="1.8" />
<text x="728.30" y="934.05" font-family='"Liberation Serif", serif' font-size="20" font-weight="normal" text-anchor="start" fill="#111" >0</text>
<line x1="713.40" y1="900.24" x2="717.90" y2="900.24" stroke="#111" stroke-width="1.8" />
<line x1="708.60" y1="871.83" x2="717.90" y2="871.83" stroke="#111" stroke-width="1.8" />
<text x="728.30" y="877.23" font-family='"Liberation Serif", serif' font-size="20" font-weight="normal" text-anchor="start" fill="#111" >100</text>
<line x1="713.40" y1="843.41" x2="717.90" y2="843.41" stroke="#111" stroke-width="1.8" />
<line x1="708.60" y1="815.00" x2="717.90" y2="815.00" stroke="#111" stroke-width="1.8" />
<text x="728.30" y="820.40" font-family='"Liberation Serif", serif' font-size="20" font-weight="normal" text-anchor="start" fill="#111" >200</text>
<line x1="713.40" y1="786.59" x2="717.90" y2="786.59" stroke="#111" stroke-width="1.8" />
<line x1="708.60" y1="758.17" x2="717.90" y2="758.17" stroke="#111" stroke-width="1.8" />
<text x="728.30" y="763.57" font-family='"Liberation Serif", serif' font-size="20" font-weight="normal" text-anchor="start" fill="#111" >300</text>
<line x1="713.40" y1="729.76" x2="717.90" y2="729.76" stroke="#111" stroke-width="1.8" />
<line x1="708.60" y1="701.35" x2="717.90" y2="701.35" stroke="#111" stroke-width="1.8" />
<text x="728.30" y="706.75" font-family='"Liberation Serif", serif' font-size="20" font-weight="normal" text-anchor="start" fill="#111" >400</text>
<line x1="713.40" y1="672.94" x2="717.90" y2="672.94" stroke="#111" stroke-width="1.8" />
<line x1="708.60" y1="644.53" x2="717.90" y2="644.53" stroke="#111" stroke-width="1.8" />
<text x="728.30" y="649.93" font-family='"Liberation Serif", serif' font-size="20" font-weight="normal" text-anchor="start" fill="#111" >500</text>
<line x1="713.40" y1="616.11" x2="717.90" y2="616.11" stroke="#111" stroke-width="1.8" />
<line x1="708.60" y1="587.70" x2="717.90" y2="587.70" stroke="#111" stroke-width="1.8" />
<text x="728.30" y="593.10" font-family='"Liberation Serif", serif' font-size="20" font-weight="normal" text-anchor="start" fill="#111" >600</text>
<text x="10.00" y="814.40" font-family='"Liberation Serif", serif' font-size="23.9" font-weight="normal" text-anchor="middle" fill="#111" transform="rotate(-90 10.00 814.40)" dy="0.35em">Glucose/Ethanol (g/L)</text>
<text x="681.50" y="813.90" font-family='"Liberation Serif", serif' font-size="23.9" font-weight="normal" text-anchor="middle" fill="#111" transform="rotate(-90 681.50 813.90)" dy="0.35em">DCW (g/L)</text>
<text x="779.30" y="815.40" font-family='"Liberation Serif", serif' font-size="23.9" font-weight="normal" text-anchor="middle" fill="#111" transform="rotate(-90 779.30 815.40)" dy="0.35em">Valencene (mg/L)</text>
<text x="357.55" y="1102.70" font-family='"Liberation Serif", serif' font-size="23.9" font-weight="normal" text-anchor="middle" fill="#111" >Time (h)</text>
<text x="9.50" y="588.50" font-family='"Liberation Sans", sans-serif' font-size="20" font-weight="bold" text-anchor="start" fill="#000" >b</text>
<line x1="105.20" y1="603.20" x2="153.00" y2="603.20" stroke="#888" stroke-width="1.2" />
<polygon points="129.20,593.73 120.75,607.93 137.65,607.93" fill="#000" stroke="#000" stroke-width="0.5" stroke-linejoin="miter"/>
<text x="158.50" y="609.90" font-family='"Liberation Serif", serif' font-size="21.5" font-weight="normal" text-anchor="start" fill="#111" >Glucose</text>
<line x1="105.20" y1="631.00" x2="153.00" y2="631.00" stroke="#aaa" stroke-width="1.2" />
<polygon points="129.20,622.00 121.25,635.50 137.15,635.50" fill="#fff" stroke="#111" stroke-width="1.3" stroke-linejoin="miter"/>
<text x="158.50" y="637.70" font-family='"Liberation Serif", serif' font-size="21.5" font-weight="normal" text-anchor="start" fill="#111" >Ethanol</text>
<line x1="105.20" y1="659.90" x2="153.00" y2="659.90" stroke="#333" stroke-width="1.2" />
<circle cx="129.20" cy="659.90" r="7.40" fill="#000"/>
<text x="158.50" y="666.60" font-family='"Liberation Serif", serif' font-size="21.5" font-weight="normal" text-anchor="start" fill="#111" >DCW</text>
<line x1="105.20" y1="688.50" x2="153.00" y2="688.50" stroke="#555" stroke-width="1.2" />
<circle cx="129.20" cy="688.50" r="6.60" fill="#fff" stroke="#1a1a1a" stroke-width="1.3"/>
<text x="158.50" y="695.20" font-family='"Liberation Serif", serif' font-size="21.5" font-weight="normal" text-anchor="start" fill="#111" >Valencene</text>
</svg>
</body></html>
